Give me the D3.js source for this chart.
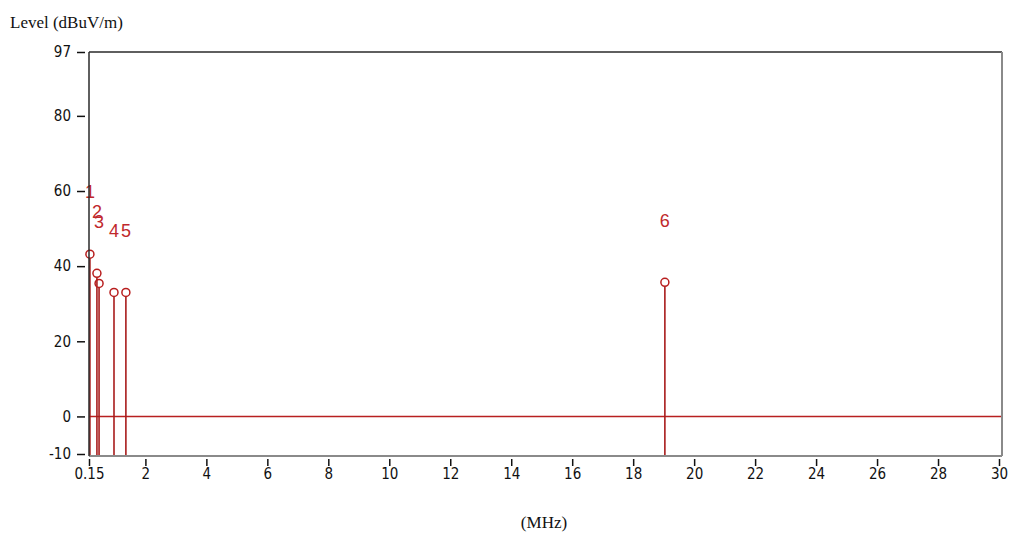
<!DOCTYPE html>
<html lang="en">
  <head>
    <meta charset="utf-8">
    <script src="https://d3js.org/d3.v7.min.js"></script>
    <title>Level vs frequency</title>
    <style>
      body { margin: 0; background-color: #ffffff; }
      svg { display: block; }
      .tick-label { font-family: "Liberation Sans Narrow", "DejaVu Sans Condensed", sans-serif; font-size: 15px; fill: #111; }
      .axis-title { font-family: "Liberation Serif", "DejaVu Serif", serif; font-size: 17px; fill: #111; }
      .peak-label { font-family: "Liberation Sans", "DejaVu Sans", sans-serif; font-size: 18px; fill: #c0282c; }
      .stem { stroke: #a81c1c; stroke-width: 1.6; }
      .marker { fill: none; stroke: #b81e1e; stroke-width: 1.5; }
    </style>
  </head>
  <body>
    <div class="chartHolder"></div>
    <script>
      // peak markers
      const peakIds = ['1', '2', '3', '4', '5', '6'];
      const peakFreqs = [0.18, 0.41, 0.48, 0.97, 1.36, 19.04];
      const peakLevels = [43.2, 38.1, 35.4, 33.0, 33.0, 35.7];

      const xTicks = [0.15, 2, 4, 6, 8, 10, 12, 14, 16, 18, 20, 22, 24, 26, 28, 30];
      const yTicks = [-10, 0, 20, 40, 60, 80, 97];
      const limitLevel = 0;

      const svgSize = {'width': 1013, 'height': 539};
      const plot = {'left': 89, 'right': 1000, 'top': 52, 'bottom': 454};

      let svg = d3.select('.chartHolder')
        .append('svg')
        .attr('width', svgSize.width)
        .attr('height', svgSize.height);

      let xScale = d3.scaleLinear()
        .domain([0.15, 30])
        .range([plot.left, 999]);
      let yScale = d3.scaleLinear()
        .domain([-10, 97])
        .range([plot.bottom, plot.top]);

      // frame: dark top/left, grey bottom/right
      svg.append('line')
        .attr('x1', plot.left).attr('x2', plot.right + 2)
        .attr('y1', plot.top).attr('y2', plot.top)
        .attr('stroke', '#2a2a2a').attr('stroke-width', 1.5);
      svg.append('line')
        .attr('x1', plot.right + 2).attr('x2', plot.right + 2)
        .attr('y1', plot.top).attr('y2', plot.bottom + 2)
        .attr('stroke', '#8a8a8a').attr('stroke-width', 2);
      svg.append('line')
        .attr('x1', plot.left).attr('x2', plot.right + 2)
        .attr('y1', plot.bottom + 2).attr('y2', plot.bottom + 2)
        .attr('stroke', '#8a8a8a').attr('stroke-width', 2);

      // y axis
      let yAxis = d3.axisLeft(yScale)
        .tickValues(yTicks)
        .tickFormat((d) => String(d))
        .tickSize(8)
        .tickPadding(6)
        .tickSizeOuter(0);
      let gy = svg.append('g')
        .attr('transform', 'translate(' + (plot.left - 4) + ',0)')
        .call(yAxis);
      gy.select('.domain').remove();
      gy.selectAll('line').attr('stroke', '#111').attr('stroke-width', 1.5);
      gy.selectAll('text').attr('class', 'tick-label');

      // x axis
      let xAxis = d3.axisBottom(xScale)
        .tickValues(xTicks)
        .tickFormat((d) => String(d))
        .tickSize(7)
        .tickPadding(2)
        .tickSizeOuter(0);
      let gx = svg.append('g')
        .attr('transform', 'translate(0,' + (plot.bottom + 5) + ')')
        .call(xAxis);
      gx.select('.domain').remove();
      gx.selectAll('line').attr('stroke', '#111').attr('stroke-width', 1.5);
      gx.selectAll('text').attr('class', 'tick-label');

      // limit line at 0
      svg.append('line')
        .attr('x1', xScale(0.15)).attr('x2', plot.right + 1)
        .attr('y1', yScale(limitLevel)).attr('y2', yScale(limitLevel))
        .attr('stroke', '#b82020').attr('stroke-width', 1.5);

      const peaks = peakIds.map((id, i) => ({id: id, f: peakFreqs[i], v: peakLevels[i]}));

      svg.selectAll('.stem')
        .data(peaks)
        .enter()
        .append('line')
          .attr('class', 'stem')
          .attr('x1', (d) => xScale(d.f)).attr('x2', (d) => xScale(d.f))
          .attr('y1', (d) => yScale(d.v) + 4).attr('y2', plot.bottom + 1);

      svg.selectAll('.marker')
        .data(peaks)
        .enter()
        .append('circle')
          .attr('class', 'marker')
          .attr('cx', (d) => xScale(d.f))
          .attr('cy', (d) => yScale(d.v))
          .attr('r', 4);

      svg.selectAll('.peak-label')
        .data(peaks)
        .enter()
        .append('text')
          .attr('class', 'peak-label')
          .attr('x', (d) => xScale(d.f))
          .attr('y', (d) => yScale(d.v) - 62)
          .attr('text-anchor', 'middle')
          .attr('dy', '0.35em')
          .text((d) => d.id);

      // left axis line drawn last so it sits over the first stem
      svg.append('line')
        .attr('x1', plot.left).attr('x2', plot.left)
        .attr('y1', plot.top).attr('y2', plot.bottom + 2)
        .attr('stroke', '#2a2a2a').attr('stroke-width', 1.5);

      svg.append('text')
        .attr('class', 'axis-title')
        .attr('x', 10).attr('y', 28)
        .text('Level (dBuV/m)');
      svg.append('text')
        .attr('class', 'axis-title')
        .attr('x', 544).attr('y', 528)
        .attr('text-anchor', 'middle')
        .text('(MHz)');
    </script>
  </body>
</html>
